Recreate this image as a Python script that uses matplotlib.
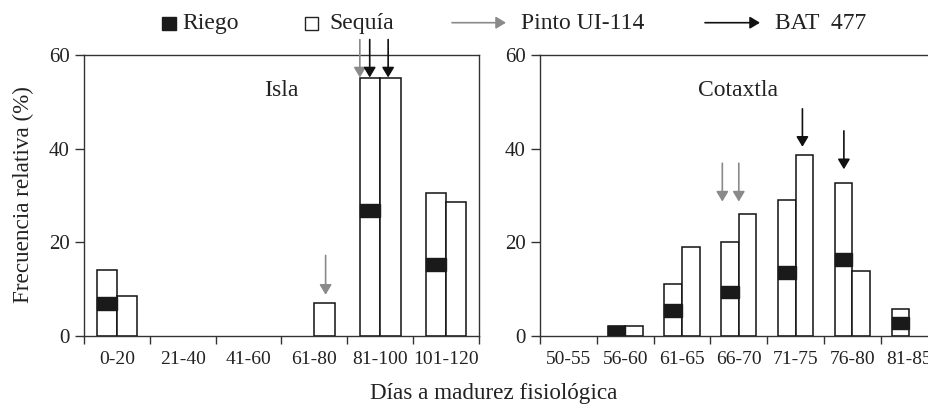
import numpy as np
import matplotlib
matplotlib.use('Agg')
import matplotlib.pyplot as plt
from matplotlib.patches import Rectangle

plt.rcParams['font.family'] = ['Liberation Serif', 'DejaVu Serif']

# ---------------- data ----------------
isla_cats   = ['0-20', '21-40', '41-60', '61-80', '81-100', '101-120']
isla_bar1   = [14.0, 0, 0, 0, 55.0, 30.6]      # first bar (white, holds the black mark)
isla_mark   = [7.0, 0, 0, 0, 26.8, 15.2]       # black Riego mark position
isla_bar2   = [8.6, 0, 0, 7.0, 55.0, 28.7]     # second bar (white)

cotx_cats   = ['50-55', '56-60', '61-65', '66-70', '71-75', '76-80', '81-85']
cotx_bar1   = [0, 2.2, 11.0, 20.0, 29.0, 32.7, 5.7]
cotx_mark   = [0, 1.0, 5.4, 9.4, 13.5, 16.4, 2.8]
cotx_bar2   = [0, 2.2, 19.1, 26.0, 38.6, 13.9, 0]

# arrows: category index + offset, y start, y tip
isla_arrow_x     = [3.17, 3.69, 3.84, 4.12]
isla_arrow_y0    = [17.2, 63.3, 63.3, 63.3]
isla_arrow_y1    = [8.8, 55.2, 55.2, 55.2]
isla_arrow_var   = ['Pinto UI-114', 'Pinto UI-114', 'BAT 477', 'BAT 477']

cotx_arrow_x     = [2.71, 3.0, 4.12, 4.85]
cotx_arrow_y0    = [36.9, 36.9, 48.5, 43.8]
cotx_arrow_y1    = [28.7, 28.7, 40.4, 35.6]
cotx_arrow_var   = ['Pinto UI-114', 'Pinto UI-114', 'BAT 477', 'BAT 477']

yticks = [0, 20, 40, 60]
ARROW_COL = {'Pinto UI-114': '#8a8a8a', 'BAT 477': '#111111'}
ARROW_STY = '-|>,head_length=0.6,head_width=0.36'
TXT = '#222222'
MARK_H = 2.7
BW = 0.31

fig = plt.figure(figsize=(9.29, 4.07), dpi=100)
W, H = 929., 407.
axL = fig.add_axes([84/W, 1-336/H, 395/W, 281/H])
axR = fig.add_axes([540/W, 1-336/H, 7*56.8/W, 281/H])


def DrawPanel(ax, cats, bar1, mark, bar2, ax_x, ay0, ay1, avar, title, tx):
    n = len(cats)
    x = np.arange(n)
    b1 = np.array(bar1); b2 = np.array(bar2)
    k1 = b1 > 0; k2 = b2 > 0
    ax.bar(x[k1] - BW/2, b1[k1], width=BW, color='white', edgecolor='#111111', lw=1.1, zorder=2)
    ax.bar(x[k2] + BW/2, b2[k2], width=BW, color='white', edgecolor='#111111', lw=1.1, zorder=2)
    for xi, b, m in zip(x, bar1, mark):
        if b <= 0:
            continue
        lo = max(0, m - MARK_H/2); hi = min(b, m + MARK_H/2)
        ax.add_patch(Rectangle((xi - BW, lo), BW, hi - lo, color='#1a1a1a', zorder=3))
    for xa, y0, y1, v in zip(ax_x, ay0, ay1, avar):
        ax.annotate('', xy=(xa, y1), xytext=(xa, y0), annotation_clip=False,
                    arrowprops=dict(arrowstyle=ARROW_STY, color=ARROW_COL[v],
                                    lw=1.2, shrinkA=0, shrinkB=0))
    ax.set_xlim(-0.5, n - 0.5)
    ax.set_ylim(0, 60)
    ax.set_xticks(np.arange(n + 1) - 0.5)
    ax.set_xticklabels([])
    ax.set_xticks(x, minor=True)
    ax.set_xticklabels(cats, minor=True)
    ax.tick_params(axis='x', which='minor', length=0, pad=11, labelsize=14, labelcolor=TXT)
    ax.tick_params(axis='x', which='major', length=6, width=1, color='#333333')
    ax.set_yticks(yticks)
    ax.tick_params(axis='y', length=6.5, width=1, color='#333333', labelsize=15,
                   labelcolor=TXT, pad=4)
    for s in ax.spines.values():
        s.set_color('#333333'); s.set_linewidth(1.0)
    ax.text(tx, 51.3, title, fontsize=17, color=TXT, ha='center', va='baseline')


DrawPanel(axL, isla_cats, isla_bar1, isla_mark, isla_bar2,
          isla_arrow_x, isla_arrow_y0, isla_arrow_y1, isla_arrow_var, 'Isla', 2.49)
DrawPanel(axR, cotx_cats, cotx_bar1, cotx_mark, cotx_bar2,
          cotx_arrow_x, cotx_arrow_y0, cotx_arrow_y1, cotx_arrow_var, 'Cotaxtla', 2.98)
fig.text(23/W, 1-195/H, 'Frecuencia relativa (%)', fontsize=16.7, color=TXT,
         rotation=90, ha='center', va='center')
fig.text(494/W, 1-399/H, 'Días a madurez fisiológica', fontsize=16.7, color=TXT,
         ha='center', va='baseline')

# ---------------- legend across the top ----------------
lb = 1 - 29/H     # text baseline
la = 1 - 22.7/H   # arrow line
fig.patches.append(Rectangle((162/W, 1-29.5/H), 14/W, 13/H, transform=fig.transFigure,
                             facecolor='#1a1a1a', edgecolor='#1a1a1a', lw=1))
fig.text(182/W, lb, 'Riego', fontsize=17, color=TXT, va='baseline')
fig.patches.append(Rectangle((305/W, 1-29.5/H), 13/W, 13/H, transform=fig.transFigure,
                             facecolor='white', edgecolor='#222222', lw=1))
fig.text(329/W, lb, 'Sequía', fontsize=17, color=TXT, va='baseline')
for (xs, xe, xt, lab, txt) in [(452, 506, 521, 'Pinto UI-114', 'Pinto UI-114'),
                               (705, 760, 775, 'BAT 477', 'BAT  477')]:
    fig.text(xt/W, lb, txt, fontsize=17, color=TXT, va='baseline')
    axL.annotate('', xy=(xe/W, la), xytext=(xs/W, la), xycoords='figure fraction',
                 annotation_clip=False,
                 arrowprops=dict(arrowstyle=ARROW_STY, color=ARROW_COL[lab],
                                 lw=1.2, shrinkA=0, shrinkB=0))

fig.savefig('out.png', dpi=100)
